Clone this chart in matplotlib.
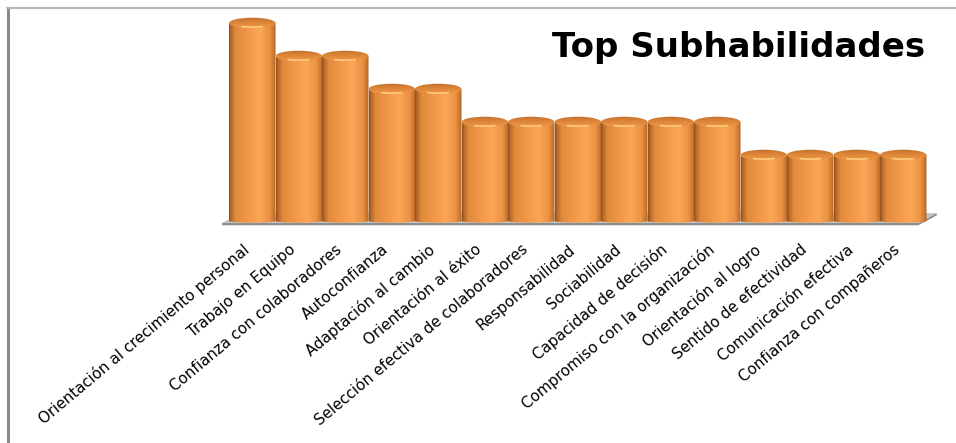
import numpy as np
import matplotlib
matplotlib.use('Agg')
import matplotlib.pyplot as plt
from matplotlib.colors import LinearSegmentedColormap
from matplotlib.patches import Ellipse, Arc, Polygon, PathPatch
from matplotlib.path import Path
from matplotlib.lines import Line2D
import matplotlib.transforms as mtransforms

categories = [
    'Orientación al crecimiento personal',
    'Trabajo en Equipo',
    'Confianza con colaboradores',
    'Autoconfianza',
    'Adaptación al cambio',
    'Orientación al éxito',
    'Selección efectiva de colaboradores',
    'Responsabilidad',
    'Sociabilidad',
    'Capacidad de decisión',
    'Compromiso con la organización',
    'Orientación al logro',
    'Sentido de efectividad',
    'Comunicación efectiva',
    'Confianza con compañeros',
]
values = [6, 5, 5, 4, 4, 3, 3, 3, 3, 3, 3, 2, 2, 2, 2]
title = 'Top Subhabilidades'

W, H = 956, 443
BAR_W = 1.0
CAP_H = 0.32   # height of the cylinder cap in data units
BOT_H = 0.10   # curvature of the cylinder bottom

# horizontal shading of a cylinder
cyl_cmap = LinearSegmentedColormap.from_list('cyl', [
    (0.00, '#8E4F1A'),
    (0.04, '#B6672A'),
    (0.14, '#E08A3C'),
    (0.45, '#F49B4B'),
    (0.66, '#FBA656'),
    (0.86, '#EC9344'),
    (0.96, '#C8752F'),
    (1.00, '#A45D26'),
])
cap_cmap = LinearSegmentedColormap.from_list('cap', [
    (0.0, '#C06E2C'),
    (0.45, '#DC8538'),
    (1.0, '#F09846'),
])

fig = plt.figure(figsize=(W / 100, H / 100), dpi=100)
fig.patch.set_facecolor('white')

# axes placed so that 1 unit = 46.5 px in x, 33 px in y
ax = fig.add_axes([205.75 / W, (H - 240.8) / H, 744 / W, 231 / H])
ax.set_xlim(-1.0, 15.0)
ax.set_ylim(-0.6, 6.4)
ax.axis('off')

x = np.arange(len(categories))
n = len(categories)

# floor
fl, fr = -0.65, n - 1 + 0.32
dx, dy = 0.40, 0.24
ax.add_patch(Polygon([(fl, -0.06), (fr, -0.06), (fr + dx, dy), (fl + dx, dy)],
                     closed=True, facecolor='#C4C4C4', edgecolor='none', zorder=1))
ax.add_patch(Polygon([(fl, -0.06), (fr, -0.06), (fr + dx, dy), (fr + dx, dy - 0.07),
                      (fr, -0.13), (fl, -0.13)],
                     closed=True, facecolor='#8E8E8E', edgecolor='none', zorder=0.9))

bars = ax.bar(x, values, width=BAR_W, color='#F09848', edgecolor='none', zorder=2)

grad = np.linspace(0, 1, 256).reshape(1, -1)
arc_t = np.linspace(np.pi, 2 * np.pi, 40)
for i, b in enumerate(bars):
    x0 = b.get_x()
    w = b.get_width()
    v = b.get_height()
    cx = x0 + w / 2
    z = 2 + i * 0.01
    # body outline: rectangle with a slightly rounded bottom
    arc_x = cx + w / 2 * np.cos(arc_t)
    arc_y = BOT_H / 2 * np.sin(arc_t)
    verts = [(x0, v)] + list(zip(arc_x, arc_y)) + [(x0 + w, v), (x0, v)]
    codes = [Path.MOVETO] + [Path.LINETO] * (len(verts) - 2) + [Path.CLOSEPOLY]
    body = PathPatch(Path(verts, codes), facecolor='none', edgecolor='none')
    ax.add_patch(body)
    b.set_visible(False)
    im = ax.imshow(grad, cmap=cyl_cmap, aspect='auto', interpolation='bilinear',
                   extent=(x0, x0 + w, -BOT_H, v), zorder=z)
    im.set_clip_path(body)
    # top cap
    cap = Ellipse((cx, v), w, CAP_H, facecolor='none', edgecolor='none')
    ax.add_patch(cap)
    cim = ax.imshow(np.linspace(0, 1, 64).reshape(-1, 1), cmap=cap_cmap, aspect='auto',
                    interpolation='bilinear', origin='upper',
                    extent=(x0, x0 + w, v - CAP_H / 2, v + CAP_H / 2), zorder=z + 0.005)
    cim.set_clip_path(cap)
    ax.add_patch(Arc((cx, v), w * 0.92, CAP_H * 0.78, theta1=205, theta2=335,
                     color='#FFCB7E', lw=1.2, zorder=z + 0.006))

# category labels
offset = mtransforms.ScaledTranslation(-5 / 100, -7 / 100, fig.dpi_scale_trans)
for i, lab in enumerate(categories):
    ax.text(x[i], -0.6, lab, rotation=40, rotation_mode='anchor',
            ha='right', va='center', fontsize=10.8, family='DejaVu Sans', color='black',
            transform=ax.transData + offset)

fig.text(925 / W, 1 - 47 / H, title, ha='right', va='center',
         fontsize=24.5, fontweight='bold', family='DejaVu Sans', color='black')

# outer frame of the original chart
fig.add_artist(Line2D([7.5 / W, 7.5 / W], [1 - 7 / H, 0], color='#8A8A8A', lw=2.2,
                      solid_capstyle='butt', transform=fig.transFigure))
fig.add_artist(Line2D([6 / W, 1], [1 - 7.8 / H, 1 - 7.8 / H], color='#B8B8B8', lw=1.6,
                      solid_capstyle='butt', transform=fig.transFigure))

fig.savefig('out.png', dpi=100)
